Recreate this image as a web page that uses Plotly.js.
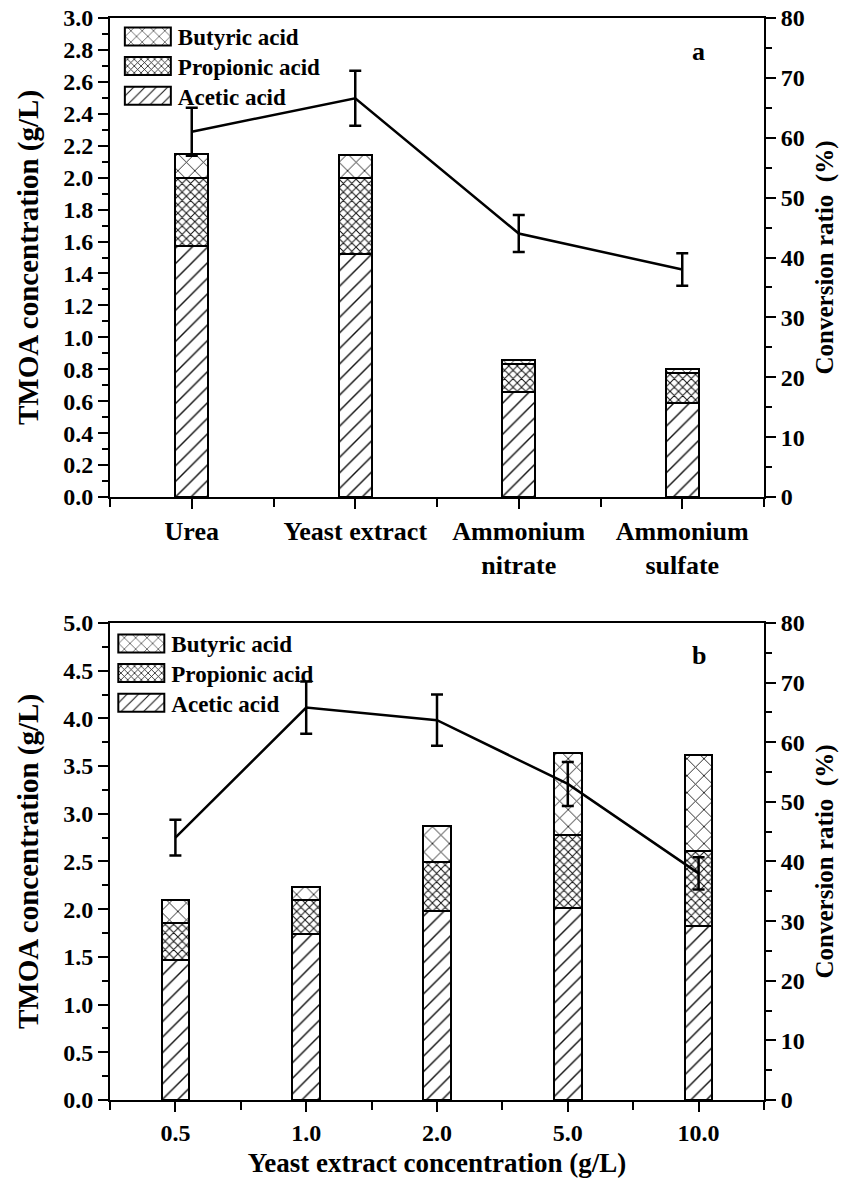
<!DOCTYPE html>
<html><head><meta charset="utf-8">
<script src="https://cdn.plot.ly/plotly-3.0.1.min.js"></script>
<style>html,body{margin:0;padding:0;background:#fff}</style>
</head><body><div id="chart" style="width:856px;height:1178px"></div>
<script>
// ---- Panel a: nitrogen sources ----
const nitrogenSources = ['Urea', 'Yeast extract', 'Ammonium<br>nitrate', 'Ammonium<br>sulfate'];
const aceticA = [1.57, 1.52, 0.66, 0.59];
const propionicA = [0.43, 0.48, 0.17, 0.185];
const butyricA = [0.15, 0.14, 0.03, 0.025];
const conversionA = [61, 66.6, 44, 38];
const conversionErrA = [4, 4.6, 3.1, 2.7];

// ---- Panel b: yeast extract concentration ----
const yeastConc = ['0.5', '1.0', '2.0', '5.0', '10.0'];
const aceticB = [1.47, 1.74, 1.98, 2.01, 1.82];
const propionicB = [0.39, 0.36, 0.51, 0.77, 0.79];
const butyricB = [0.24, 0.13, 0.385, 0.86, 1.01];
const conversionB = [44, 65.8, 63.7, 53, 38];
const conversionErrB = [3, 4.4, 4.3, 3.7, 2.7];

const seriesNames = ['Acetic acid', 'Propionic acid', 'Butyric acid'];

const FONT = 'Liberation Serif, Times New Roman, serif';
const patterns = [
  {shape: '/', size: 11, solidity: 0.13, fgcolor: '#111', bgcolor: 'white', fillmode: 'replace'},
  {shape: 'x', size: 6, solidity: 0.3, fgcolor: '#111', bgcolor: 'white', fillmode: 'replace'},
  {shape: 'x', size: 12, solidity: 0.14, fgcolor: '#111', bgcolor: 'white', fillmode: 'replace'}
];

function barTraces(idx, seriesList, xa, ya, legend, w) {
  return seriesList.map((vals, k) => ({
    type: 'bar', x: idx, y: vals, name: seriesNames[k], width: w,
    xaxis: xa, yaxis: ya, legend: legend,
    marker: {color: 'white', line: {color: 'black', width: 2}, pattern: patterns[k]},
    hoverinfo: 'skip'
  }));
}
function lineTrace(idx, vals, errs, xa, ya) {
  return {
    type: 'scatter', mode: 'lines', x: idx, y: vals, xaxis: xa, yaxis: ya,
    line: {color: 'black', width: 2.5}, showlegend: false,
    error_y: {type: 'data', array: errs, visible: true, color: 'black', thickness: 2.5, width: 6}
  };
}

const idxA = nitrogenSources.map((_, i) => i);
const idxB = yeastConc.map((_, i) => i);

const data = [
  ...barTraces(idxA, [aceticA, propionicA, butyricA], 'x', 'y', 'legend', 0.2),
  lineTrace(idxA, conversionA, conversionErrA, 'x', 'y2'),
  ...barTraces(idxB, [aceticB, propionicB, butyricB], 'x2', 'y3', 'legend2', 0.21),
  lineTrace(idxB, conversionB, conversionErrB, 'x2', 'y4')
];

const tickFont = {family: FONT, size: 24, color: 'black', weight: 'bold'};
const axBase = {showline: true, linecolor: 'black', linewidth: 2, ticks: 'outside', tickcolor: 'black',
  tickwidth: 2, ticklen: 10, showgrid: false, zeroline: false, tickfont: tickFont};

function xAxis(labels, anchor, titleText, catSize) {
  return Object.assign({}, axBase, {
    anchor: anchor, domain: [0, 1], range: [-0.5, labels.length - 0.5],
    tickmode: 'array', tickvals: labels.map((_, i) => i), ticktext: labels, mirror: true,
    tickfont: Object.assign({}, tickFont, {size: catSize}),
    minor: {ticks: 'outside', ticklen: 8, tickwidth: 2, tickcolor: 'black', tickmode: 'linear', tick0: -0.5, dtick: 1, showgrid: false},
    title: {text: titleText, font: {family: FONT, size: 27, color: 'black', weight: 'bold'}, standoff: 10}
  });
}
function leftAxis(anchor, domain, rng, dt) {
  return Object.assign({}, axBase, {
    anchor: anchor, domain: domain, range: rng, dtick: dt, tick0: 0, tickformat: '.1f',
    minor: {ticks: 'outside', ticklen: 6, tickwidth: 2, tickcolor: 'black', dtick: dt / 2, showgrid: false},
    title: {text: 'TMOA concentration (g/L)', font: {family: FONT, size: 29, color: 'black', weight: 'bold'}, standoff: 16}
  });
}
function rightAxis(overlay, anchor) {
  return Object.assign({}, axBase, {
    overlaying: overlay, anchor: anchor, side: 'right', range: [0, 80], dtick: 10, tick0: 0,
    minor: {ticks: 'outside', ticklen: 6, tickwidth: 2, tickcolor: 'black', dtick: 5, showgrid: false},
    title: {text: 'Conversion ratio&nbsp;&nbsp;(%)', font: {family: FONT, size: 25, color: 'black', weight: 'bold'}, standoff: 12}
  });
}

const legFont = {family: FONT, size: 23, color: 'black', weight: 'bold'};
const layout = {
  width: 856, height: 1178,
  margin: {l: 110, r: 92, t: 18, b: 78},
  paper_bgcolor: 'white', plot_bgcolor: 'white',
  barmode: 'stack', showlegend: true,
  xaxis: xAxis(nitrogenSources, 'y', '', 26),
  yaxis: leftAxis('x', [0.5573, 1], [0, 3], 0.2),
  yaxis2: rightAxis('y', 'x'),
  xaxis2: xAxis(yeastConc, 'y3', 'Yeast extract concentration (g/L)', 24),
  yaxis3: leftAxis('x2', [0, 0.4409], [0, 5], 0.5),
  yaxis4: rightAxis('y3', 'x2'),
  legend: {x: 0.012, y: 1.0028, xanchor: 'left', yanchor: 'top', traceorder: 'reversed', font: legFont,
    bgcolor: 'rgba(0,0,0,0)', itemwidth: 50, tracegroupgap: 0},
  legend2: {x: 0.002, y: 0.4418, xanchor: 'left', yanchor: 'top', traceorder: 'reversed', font: legFont,
    bgcolor: 'rgba(0,0,0,0)', itemwidth: 50, tracegroupgap: 0},
  annotations: [
    {text: 'a', xref: 'paper', yref: 'paper', x: 0.90, y: 0.9686, xanchor: 'center', yanchor: 'middle', showarrow: false,
      font: {family: FONT, size: 26, color: 'black', weight: 'bold'}},
    {text: 'b', xref: 'paper', yref: 'paper', x: 0.90, y: 0.411, xanchor: 'center', yanchor: 'middle', showarrow: false,
      font: {family: FONT, size: 26, color: 'black', weight: 'bold'}}
  ]
};

function tweakLegends(gd) {
  // enlarge legend swatches and tighten row spacing to match the original figure
  gd.querySelectorAll('.legendpoints path').forEach(p => {
    p.setAttribute('d', 'M23,9H-23V-9H23Z');
    p.style.strokeWidth = '2px';
    p.style.stroke = 'black';
  });
  ['g.legend', 'g.legend2'].forEach(sel => {
    const leg = gd.querySelector(sel);
    if (!leg) return;
    const items = Array.from(leg.querySelectorAll('g.traces'));
    let y0 = null;
    items.forEach(it => {
      const t = it.getAttribute('transform') || '';
      const m = t.match(/translate\(\s*([-\d.e]+)[ ,]+([-\d.e]+)\s*\)/);
      if (!m) return;
      const x = parseFloat(m[1]), y = parseFloat(m[2]);
      if (y0 === null) y0 = y;
      it.setAttribute('transform', 'translate(' + x + ',' + (y0 + (y - y0) * 0.9) + ')');
    });
  });
}

Plotly.newPlot('chart', data, layout, {staticPlot: true}).then(gd => { tweakLegends(gd); });
</script>
</body></html>
